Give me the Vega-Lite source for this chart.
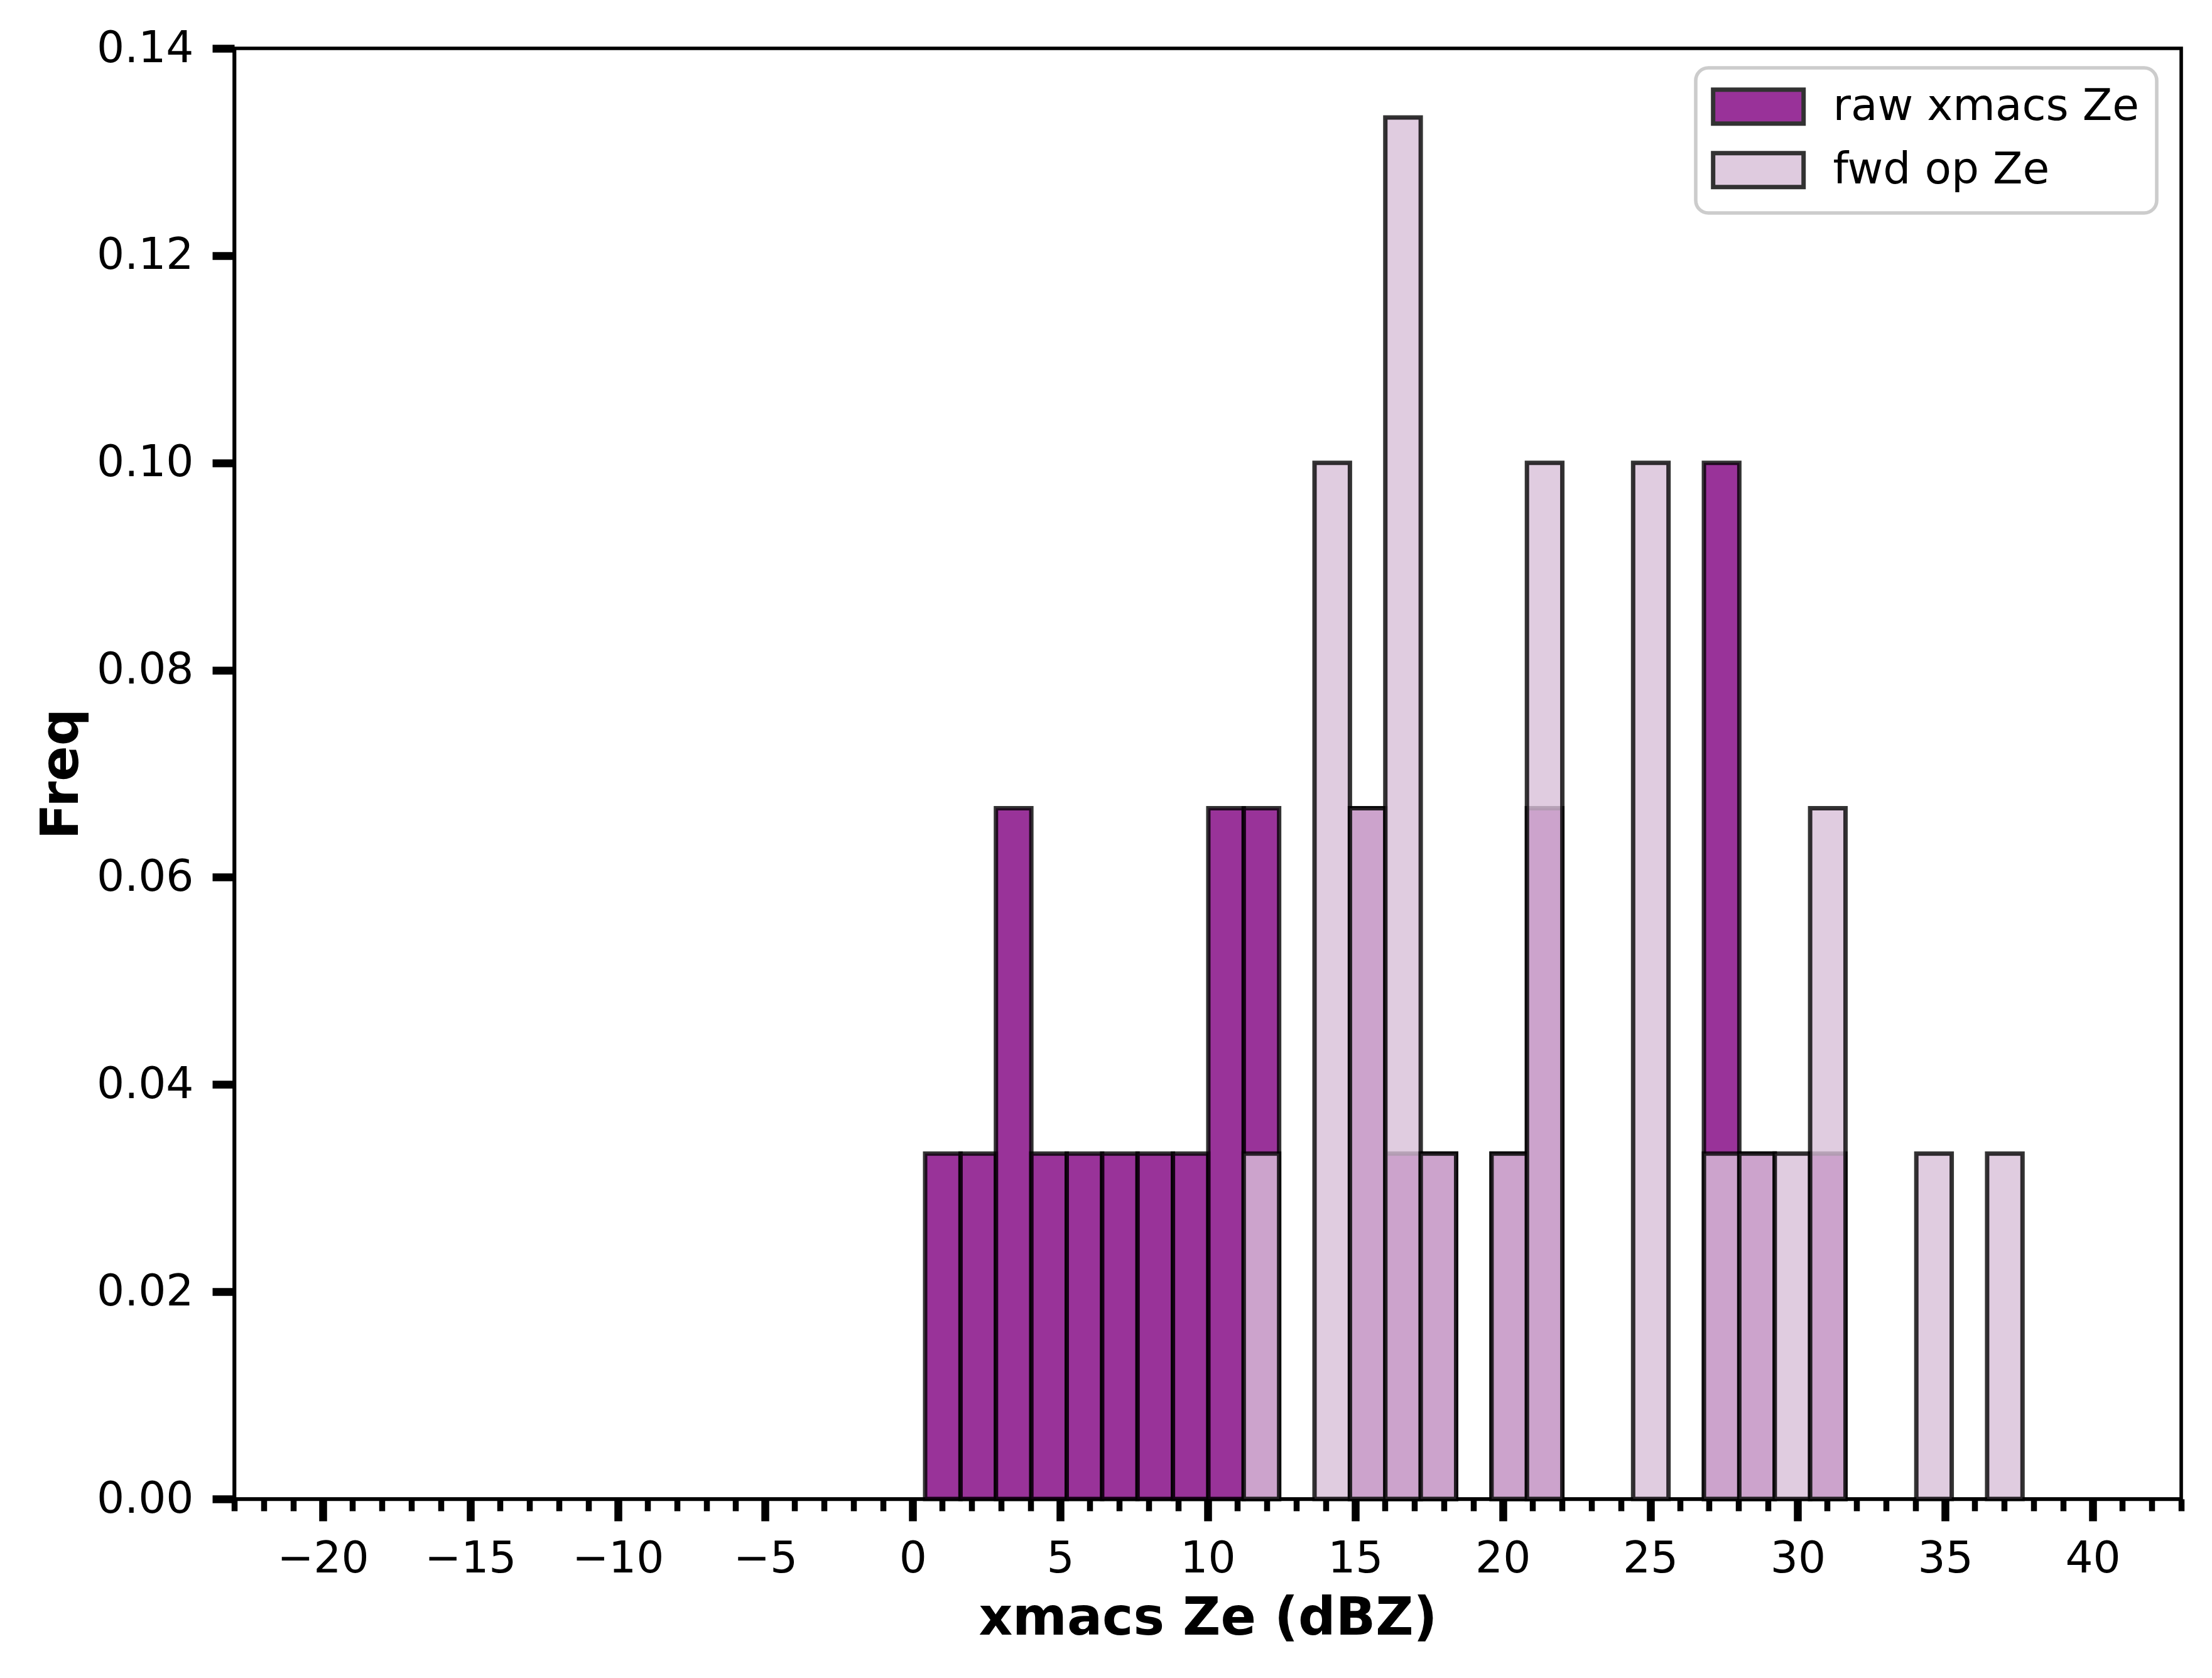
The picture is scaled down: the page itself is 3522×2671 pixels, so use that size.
{
  "$schema": "https://vega.github.io/schema/vega-lite/v6.json",
  "description": "Histogram of raw xmacs Ze and forward-operator Ze",
  "autosize": {"type": "none"},
  "width": 3100,
  "height": 2309,
  "padding": {"left": 373, "top": 77, "right": 49, "bottom": 285},
  "background": "white",
  "config": {
    "font": "DejaVu Sans",
    "view": {"stroke": "black", "strokeWidth": 5.6},
    "axis": {
      "domainColor": "black",
      "domainWidth": 5.6,
      "tickColor": "black",
      "labelColor": "black",
      "titleColor": "black",
      "labelFont": "DejaVu Sans",
      "titleFont": "DejaVu Sans",
      "labelFontSize": 69.4,
      "titleFontSize": 83.3,
      "titleFontWeight": "bold",
      "grid": false
    },
    "legend": {"strokeWidth": 5.6, "symbolOffset": 38}
  },
  "data": {
    "values": [
      {"series": "raw xmacs Ze", "lo": 0.42, "hi": 1.62, "freq": 0.03333},
      {"series": "raw xmacs Ze", "lo": 1.62, "hi": 2.82, "freq": 0.03333},
      {"series": "raw xmacs Ze", "lo": 2.82, "hi": 4.02, "freq": 0.06667},
      {"series": "raw xmacs Ze", "lo": 4.02, "hi": 5.22, "freq": 0.03333},
      {"series": "raw xmacs Ze", "lo": 5.22, "hi": 6.42, "freq": 0.03333},
      {"series": "raw xmacs Ze", "lo": 6.42, "hi": 7.62, "freq": 0.03333},
      {"series": "raw xmacs Ze", "lo": 7.62, "hi": 8.82, "freq": 0.03333},
      {"series": "raw xmacs Ze", "lo": 8.82, "hi": 10.02, "freq": 0.03333},
      {"series": "raw xmacs Ze", "lo": 10.02, "hi": 11.22, "freq": 0.06667},
      {"series": "raw xmacs Ze", "lo": 11.22, "hi": 12.42, "freq": 0.06667},
      {"series": "raw xmacs Ze", "lo": 14.82, "hi": 16.02, "freq": 0.06667},
      {"series": "raw xmacs Ze", "lo": 16.02, "hi": 17.22, "freq": 0.03333},
      {"series": "raw xmacs Ze", "lo": 17.22, "hi": 18.42, "freq": 0.03333},
      {"series": "raw xmacs Ze", "lo": 19.62, "hi": 20.82, "freq": 0.03333},
      {"series": "raw xmacs Ze", "lo": 20.82, "hi": 22.02, "freq": 0.06667},
      {"series": "raw xmacs Ze", "lo": 26.82, "hi": 28.02, "freq": 0.1},
      {"series": "raw xmacs Ze", "lo": 28.02, "hi": 29.22, "freq": 0.03333},
      {"series": "raw xmacs Ze", "lo": 30.42, "hi": 31.62, "freq": 0.03333},
      {"series": "fwd op Ze", "lo": 11.22, "hi": 12.42, "freq": 0.03333},
      {"series": "fwd op Ze", "lo": 13.62, "hi": 14.82, "freq": 0.1},
      {"series": "fwd op Ze", "lo": 14.82, "hi": 16.02, "freq": 0.06667},
      {"series": "fwd op Ze", "lo": 16.02, "hi": 17.22, "freq": 0.13333},
      {"series": "fwd op Ze", "lo": 17.22, "hi": 18.42, "freq": 0.03333},
      {"series": "fwd op Ze", "lo": 19.62, "hi": 20.82, "freq": 0.03333},
      {"series": "fwd op Ze", "lo": 20.82, "hi": 22.02, "freq": 0.1},
      {"series": "fwd op Ze", "lo": 24.42, "hi": 25.62, "freq": 0.1},
      {"series": "fwd op Ze", "lo": 26.82, "hi": 28.02, "freq": 0.03333},
      {"series": "fwd op Ze", "lo": 28.02, "hi": 29.22, "freq": 0.03333},
      {"series": "fwd op Ze", "lo": 29.22, "hi": 30.42, "freq": 0.03333},
      {"series": "fwd op Ze", "lo": 30.42, "hi": 31.62, "freq": 0.06667},
      {"series": "fwd op Ze", "lo": 34.02, "hi": 35.22, "freq": 0.03333},
      {"series": "fwd op Ze", "lo": 36.42, "hi": 37.62, "freq": 0.03333}
    ]
  },
  "mark": {
    "type": "bar",
    "stroke": "black",
    "strokeWidth": 7,
    "fillOpacity": 0.8,
    "strokeOpacity": 0.8,
    "cornerRadius": 0
  },
  "encoding": {
    "x": {
      "field": "lo",
      "type": "quantitative",
      "scale": {"domain": [-23, 43], "nice": false, "zero": false},
      "axis": {
        "title": "xmacs Ze (dBZ)",
        "titlePadding": 20,
        "values": [-23, -22, -21, -20, -19, -18, -17, -16, -15, -14, -13, -12, -11, -10, -9, -8, -7, -6, -5, -4, -3, -2, -1, 0, 1, 2, 3, 4, 5, 6, 7, 8, 9, 10, 11, 12, 13, 14, 15, 16, 17, 18, 19, 20, 21, 22, 23, 24, 25, 26, 27, 28, 29, 30, 31, 32, 33, 34, 35, 36, 37, 38, 39, 40, 41, 42, 43],
        "format": "d",
        "labelExpr": "datum.value % 5 === 0 ? replace(datum.label, '-', '\u2212') : ''",
        "labelOverlap": false,
        "labelFlush": false,
        "labelPadding": 26,
        "tickSize": {"condition": {"test": "datum.value % 5 === 0", "value": 35}, "value": 19},
        "tickWidth": {"condition": {"test": "datum.value % 5 === 0", "value": 12.5}, "value": 9.5}
      }
    },
    "x2": {"field": "hi"},
    "y": {
      "field": "freq",
      "type": "quantitative",
      "stack": null,
      "scale": {"domain": [0, 0.14], "nice": false},
      "axis": {
        "title": "Freq",
        "titlePadding": 33,
        "values": [0, 0.02, 0.04, 0.06, 0.08, 0.1, 0.12, 0.14],
        "format": ".2f",
        "labelPadding": 30,
        "labelFlush": false,
        "tickSize": 35,
        "tickWidth": 12.5
      }
    },
    "y2": {"datum": 0},
    "color": {
      "field": "series",
      "type": "nominal",
      "sort": null,
      "scale": {"domain": ["raw xmacs Ze", "fwd op Ze"], "range": ["purple", "thistle"]},
      "legend": {
        "title": null,
        "orient": "none",
        "legendX": 2327,
        "legendY": 31,
        "padding": 27,
        "rowPadding": 18,
        "labelFont": "DejaVu Sans",
        "labelFontSize": 69.4,
        "labelColor": "black",
        "labelOffset": 84,
        "labelLimit": 1000,
        "symbolType": "M-2.667,-1L2.667,-1L2.667,1L-2.667,1Z",
        "symbolSize": 2916,
        "symbolStrokeColor": "black",
        "symbolStrokeWidth": 7,
        "symbolOpacity": 0.8,
        "strokeColor": "#cccccc",
        "fillColor": "white",
        "cornerRadius": 20
      }
    }
  }
}
